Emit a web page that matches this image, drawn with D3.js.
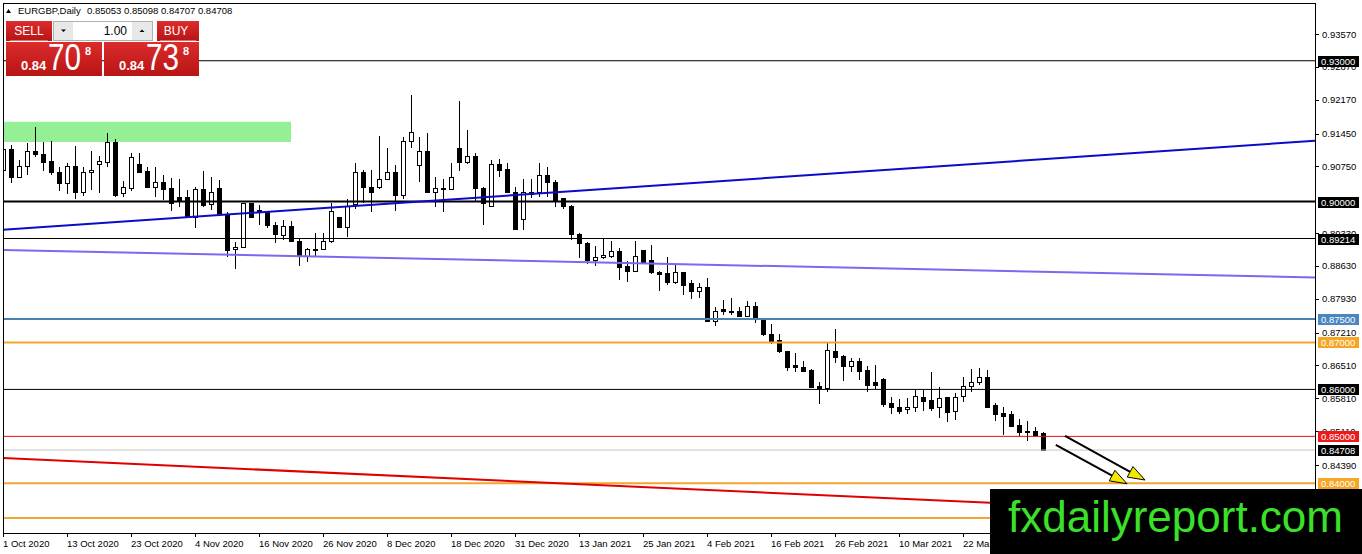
<!DOCTYPE html>
<html>
<head>
<meta charset="utf-8">
<script src="https://d3js.org/d3.v7.min.js"></script>
<style>
body { margin: 0; background: #fff; }
svg { display: block; font-family: "Liberation Sans", Arial, sans-serif; }
</style>
</head>
<body>
<div id="chart"></div>
<script>
// EURGBP daily candles, 1 Oct 2020 .. early Apr 2021
var symbol = "EURGBP,Daily";

var dateLabels = ["1 Oct 2020", "13 Oct 2020", "23 Oct 2020", "4 Nov 2020", "16 Nov 2020",
    "26 Nov 2020", "8 Dec 2020", "18 Dec 2020", "31 Dec 2020", "13 Jan 2021", "25 Jan 2021",
    "4 Feb 2021", "16 Feb 2021", "26 Feb 2021", "10 Mar 2021", "22 Mar 2021", "1 Apr 2021"];

var open = [
    .9067,.9110,.9052,.9074,.9106,.9101,.9086,.9063,.9038,.9074,
    .9020,.9061,.9078,.9084,.9125,.9018,.9027,.9080,.9065,.9031,
    .9040,.9027,.9008,.9008,.8967,.9025,.8993,.9027,.8971,.8899,
    .8903,.8995,.8982,.8976,.8950,.8927,.8948,.8914,.8884,.8899,
    .8899,.8914,.8967,.8945,.8993,.9063,.9029,.9029,.9048,.9061,
    .9012,.9127,.9076,.9106,.9020,.9027,.9025,.9114,.9084,.9097,
    .9027,.8989,.9078,.9069,.9020,.8961,.9020,.9020,.9055,.9040,
    .9006,.8989,.8929,.8910,.8874,.8880,.8884,.8893,.8861,.8852,
    .8895,.8874,.8850,.8846,.8827,.8848,.8825,.8808,.8818,.8744,
    .8771,.8767,.8765,.8756,.8776,.8748,.8718,.8705,.8680,.8650,
    .8646,.8641,.8607,.8603,.8680,.8671,.8648,.8660,.8641,.8614,
    .8622,.8569,.8562,.8558,.8562,.8582,.8577,.8562,.8582,.8552,
    .8584,.8607,.8614,.8626,.8565,.8548,.8546,.8524,.8511,.8511,
    .85053];
var high = [
    .9153,.9121,.9089,.9125,.9159,.9127,.9129,.9074,.9082,.9118,
    .9074,.9108,.9097,.9146,.9133,.9044,.9104,.9104,.9074,.9074,
    .9057,.9050,.9048,.9025,.9031,.9065,.9052,.9046,.8978,.8914,
    .8997,.8997,.8993,.8980,.8957,.8961,.8959,.8922,.8901,.8933,
    .8933,.8997,.8967,.9006,.9082,.9067,.9067,.9140,.9114,.9078,
    .9138,.9227,.9138,.9146,.9052,.9048,.9082,.9214,.9153,.9104,
    .9031,.9089,.9091,.9082,.9031,.9048,.9048,.9082,.9074,.9046,
    .9008,.8993,.8933,.8914,.8905,.8922,.8916,.8901,.8873,.8916,
    .8897,.8908,.8852,.8882,.8865,.8850,.8833,.8827,.8837,.8776,
    .8790,.8795,.8776,.8788,.8786,.8750,.8739,.8718,.8682,.8678,
    .8660,.8643,.8616,.8699,.8729,.8673,.8667,.8667,.8650,.8652,
    .8624,.8584,.8580,.8582,.8599,.8599,.8637,.8605,.8584,.8592,
    .8626,.8643,.8646,.8641,.8571,.8562,.8554,.8537,.8533,.8520,
    .85098];
var low = [
    .9061,.9040,.9050,.9057,.9095,.9065,.9057,.9023,.9016,.9006,
    .9012,.9025,.9018,.9074,.9010,.9010,.9023,.9061,.9029,.9010,
    .9003,.8980,.8989,.8965,.8944,.8989,.8982,.8969,.8882,.8856,
    .8901,.8965,.8950,.8944,.8912,.8918,.8914,.8863,.8871,.8882,
    .8897,.8912,.8944,.8925,.8984,.8997,.8978,.9027,.9046,.8980,
    .9006,.9114,.9042,.9018,.8989,.8978,.9025,.9065,.9080,.8999,
    .8950,.8989,.9052,.9018,.8939,.8939,.9008,.9010,.9010,.8989,
    .8984,.8918,.8880,.8867,.8863,.8878,.8880,.8833,.8829,.8850,
    .8869,.8846,.8810,.8822,.8825,.8801,.8793,.8795,.8743,.8735,
    .8758,.8758,.8754,.8754,.8741,.8714,.8697,.8678,.8639,.8637,
    .8637,.8603,.8569,.8594,.8656,.8618,.8637,.8620,.8594,.8601,
    .8562,.8548,.8548,.8548,.8552,.8554,.8554,.8539,.8531,.8535,
    .8573,.8594,.8609,.8560,.8533,.8503,.8520,.8501,.8490,.8499,
    .84707];
var close = [
    .9110,.9052,.9074,.9106,.9101,.9084,.9061,.9038,.9074,.9020,
    .9063,.9067,.9086,.9125,.9014,.9031,.9093,.9063,.9031,.9040,
    .9025,.8995,.9003,.8967,.9025,.8991,.9020,.8974,.8895,.8903,
    .8995,.8967,.8976,.8950,.8929,.8948,.8916,.8884,.8897,.8895,
    .8914,.8978,.8945,.8989,.9061,.9029,.9020,.9048,.9061,.9012,
    .9127,.9148,.9106,.9020,.9027,.9025,.9052,.9084,.9097,.9027,
    .8997,.9078,.9067,.9020,.8940,.9020,.9016,.9055,.9040,.9003,
    .8989,.8929,.8910,.8874,.8880,.8886,.8893,.8859,.8852,.8884,
    .8871,.8848,.8844,.8827,.8850,.8822,.8808,.8818,.8744,.8765,
    .8765,.8763,.8756,.8776,.8754,.8716,.8701,.8680,.8646,.8646,
    .8639,.8605,.8603,.8682,.8667,.8648,.8660,.8639,.8609,.8609,
    .8567,.8562,.8554,.8562,.8584,.8575,.8560,.8580,.8550,.8582,
    .8607,.8614,.8626,.8562,.8546,.8543,.8522,.8509,.8509,.8501,
    .84708];

var askPrice = 0.84738;
var lotSize = "1.00";

// 0.90050 sits fully under the 0.90000 tag, so it is left out
var priceTicks = [0.93570, 0.92870, 0.92170, 0.91450, 0.90750, 0.89330,
    0.88630, 0.87930, 0.87210, 0.86510, 0.85810, 0.85110, 0.84390];

// horizontal levels, last one has no price tag
var levels = [0.93000, 0.90000, 0.89214, 0.87500, 0.87000, 0.86000, 0.85000, 0.84708, 0.84000, 0.83260];
var levelColor = ["#000", "#000", "#000", "#4a80b4", "#f2a531", "#000", "#e01010", "#c4c4c4", "#f2a531", "#f2a531"];
var levelWidth = [1, 2, 1, 2, 2, 1, 1, 1, 2, 2];
var tagColor = ["#000", "#000", "#000", "#4a86c0", "#f5a623", "#000", "#f01818", "#000", "#f5a623", null];

// trend lines as [bar, price] pairs
var trendBlue = [[0, 0.8940], [160, 0.9125]];
var trendPurple = [[0, 0.8897], [160, 0.8840]];
var trendRed = [[0, 0.8454], [160, 0.8330]];
var zone = { from: 0, to: 36, top: 0.9170, bottom: 0.9127 };
var arrows = [
    [[131.6, 0.8482], [140.5, 0.8399]],
    [[132.75, 0.8501], [142.75, 0.8407]]
];

var width = 1362, height = 554;
var L = 3, R = 1315, T = 3, B = 533;

var x = d3.scaleLinear().domain([0, 164]).range([3, 1315]);
var y = d3.scaleLinear().domain([0.84390, 0.93570]).range([465, 34]);

var svg = d3.select("#chart").append("svg")
    .attr("width", width)
    .attr("height", height);

svg.append("rect").attr("width", width).attr("height", height).attr("fill", "#fff");

var defs = svg.append("defs");
defs.append("clipPath").attr("id", "plot")
    .append("rect").attr("x", L).attr("y", T).attr("width", R - L).attr("height", B - T);

var grad = defs.append("linearGradient").attr("id", "redgrad")
    .attr("x1", 0).attr("x2", 0).attr("y1", 0).attr("y2", 1);
grad.append("stop").attr("offset", "0%").attr("stop-color", "#dc2c2c");
grad.append("stop").attr("offset", "100%").attr("stop-color", "#b81414");

var plot = svg.append("g").attr("clip-path", "url(#plot)");

// zone rectangle (background object)
plot.append("rect")
    .attr("x", x(zone.from))
    .attr("y", y(zone.top))
    .attr("width", x(zone.to) - x(zone.from))
    .attr("height", y(zone.bottom) - y(zone.top))
    .attr("fill", "#95ef95");

// candles
var bars = d3.range(open.length);
var candle = plot.append("g").selectAll("g")
    .data(bars)
    .enter().append("g")
    .attr("shape-rendering", "crispEdges");

candle.append("line")
    .attr("x1", function(i) { return Math.round(x(i)) + 0.5; })
    .attr("x2", function(i) { return Math.round(x(i)) + 0.5; })
    .attr("y1", function(i) { return y(high[i]); })
    .attr("y2", function(i) { return y(low[i]); })
    .attr("stroke", "#000");

candle.append("rect")
    .attr("x", function(i) { return Math.round(x(i)) - 1.5; })
    .attr("width", 4)
    .attr("y", function(i) { return y(Math.max(open[i], close[i])); })
    .attr("height", function(i) { return Math.max(0.5, y(Math.min(open[i], close[i])) - y(Math.max(open[i], close[i]))); })
    .attr("fill", function(i) { return close[i] >= open[i] ? "#fff" : "#000"; })
    .attr("stroke", "#000");

// horizontal levels
plot.selectAll(".level")
    .data(levels)
    .enter().append("line")
    .attr("class", "level")
    .attr("x1", L).attr("x2", R)
    .attr("y1", function(d) { return y(d); })
    .attr("y2", function(d) { return y(d); })
    .attr("stroke", function(d, i) { return levelColor[i]; })
    .attr("stroke-width", function(d, i) { return levelWidth[i]; });

// trend lines
var trendLine = d3.line()
    .x(function(d) { return x(d[0]); })
    .y(function(d) { return y(d[1]); });

function extend(p) {
    var slope = (p[1][1] - p[0][1]) / (p[1][0] - p[0][0]);
    var a = x.invert(L - 2), b = x.invert(R + 2);
    return [[a, p[0][1] + slope * (a - p[0][0])], [b, p[0][1] + slope * (b - p[0][0])]];
}

plot.append("path").attr("d", trendLine(extend(trendBlue)))
    .attr("stroke", "#0b0bc8").attr("stroke-width", 2).attr("fill", "none");
plot.append("path").attr("d", trendLine(extend(trendPurple)))
    .attr("stroke", "#7b68ee").attr("stroke-width", 2).attr("fill", "none");
plot.append("path").attr("d", trendLine(extend(trendRed)))
    .attr("stroke", "#e00000").attr("stroke-width", 2).attr("fill", "none");

// arrows
arrows.forEach(function(a) {
    var x1 = x(a[0][0]), y1 = y(a[0][1]), x2 = x(a[1][0]), y2 = y(a[1][1]);
    var ang = Math.atan2(y2 - y1, x2 - x1);
    var hl = 17, hw = 6;
    var bx = x2 - hl * Math.cos(ang), by = y2 - hl * Math.sin(ang);
    plot.append("line")
        .attr("x1", x1).attr("y1", y1).attr("x2", bx).attr("y2", by)
        .attr("stroke", "#000").attr("stroke-width", 2);
    var pts = [
        [x2, y2],
        [bx + hw * Math.sin(ang), by - hw * Math.cos(ang)],
        [bx - hw * Math.sin(ang), by + hw * Math.cos(ang)]
    ];
    plot.append("path")
        .attr("d", "M" + pts.map(function(p) { return p.join(","); }).join("L") + "Z")
        .attr("fill", "#f4e800").attr("stroke", "#000").attr("stroke-width", 1);
});

// frame
svg.append("path")
    .attr("d", "M" + (L + 0.5) + "," + B + "V" + (T + 0.5) + "H" + (R + 0.5) + "V" + (B + 0.5) + "H" + L)
    .attr("fill", "none").attr("stroke", "#000").attr("shape-rendering", "crispEdges");

// price axis
var yAxis = svg.append("g").attr("shape-rendering", "crispEdges");
yAxis.selectAll("line")
    .data(priceTicks)
    .enter().append("line")
    .attr("x1", R + 1).attr("x2", R + 4)
    .attr("y1", function(d) { return Math.round(y(d)) + 0.5; })
    .attr("y2", function(d) { return Math.round(y(d)) + 0.5; })
    .attr("stroke", "#000");
yAxis.selectAll("text")
    .data(priceTicks)
    .enter().append("text")
    .attr("x", R + 7)
    .attr("y", function(d) { return y(d) + 3.5; })
    .attr("font-size", "9.5px")
    .attr("fill", "#000")
    .text(function(d) { return d.toFixed(5); });

// price tags
var tags = svg.append("g");
levels.forEach(function(v, i) {
    if (!tagColor[i]) return;
    tags.append("rect")
        .attr("x", R + 3).attr("y", Math.round(y(v)) - 5)
        .attr("width", 41).attr("height", 11)
        .attr("fill", tagColor[i]);
    tags.append("text")
        .attr("x", R + 6).attr("y", y(v) + 4)
        .attr("font-size", "9.5px")
        .attr("fill", "#fff")
        .text(v.toFixed(5));
});

// time axis
var tAxis = svg.append("g");
tAxis.selectAll("line")
    .data(dateLabels)
    .enter().append("line")
    .attr("x1", function(d, i) { return Math.round(x(i * 8)) + 0.5; })
    .attr("x2", function(d, i) { return Math.round(x(i * 8)) + 0.5; })
    .attr("y1", B).attr("y2", B + 4)
    .attr("stroke", "#000").attr("shape-rendering", "crispEdges");
tAxis.selectAll("text")
    .data(dateLabels)
    .enter().append("text")
    .attr("x", function(d, i) { return x(i * 8); })
    .attr("y", B + 14)
    .attr("font-size", "9.5px")
    .attr("fill", "#000")
    .text(function(d) { return d; });

// header
var last = open.length - 1;
svg.append("path").attr("d", "M6,13L8.5,9L11,13Z").attr("fill", "#000");
svg.append("text").attr("x", 18).attr("y", 14).attr("font-size", "9.5px").text(symbol);
svg.append("text").attr("x", 87).attr("y", 14).attr("font-size", "9.5px")
    .text([open[last], high[last], low[last], close[last]].map(function(v) { return v.toFixed(5); }).join(" "));

// one-click trading panel
var panel = svg.append("g").attr("shape-rendering", "crispEdges");
panel.append("rect").attr("x", 6).attr("y", 21).attr("width", 46).attr("height", 20).attr("fill", "url(#redgrad)");
panel.append("rect").attr("x", 157).attr("y", 21).attr("width", 42).attr("height", 20).attr("fill", "url(#redgrad)");
panel.append("line").attr("x1", 10).attr("x2", 48).attr("y1", 40.5).attr("y2", 40.5).attr("stroke", "#e86a6a");
panel.append("line").attr("x1", 160).attr("x2", 196).attr("y1", 40.5).attr("y2", 40.5).attr("stroke", "#e86a6a");
panel.append("rect").attr("x", 53.5).attr("y", 21.5).attr("width", 99).attr("height", 19)
    .attr("fill", "#fff").attr("stroke", "#b0b0b0");
panel.append("rect").attr("x", 54).attr("y", 22).attr("width", 19).attr("height", 18).attr("fill", "#e8e8e8");
panel.append("rect").attr("x", 132).attr("y", 22).attr("width", 20).attr("height", 18).attr("fill", "#e8e8e8");
panel.append("path").attr("d", "M61,29.5L66,29.5L63.5,32Z").attr("fill", "#000").attr("shape-rendering", "auto");
panel.append("path").attr("d", "M139.5,32L144.5,32L142,29.5Z").attr("fill", "#000").attr("shape-rendering", "auto");
panel.append("text").attr("x", 127).attr("y", 35).attr("text-anchor", "end")
    .attr("font-size", "12px").attr("fill", "#000").text(lotSize);
panel.append("text").attr("x", 29).attr("y", 35).attr("text-anchor", "middle")
    .attr("font-size", "12px").attr("fill", "#fff").text("SELL");
panel.append("text").attr("x", 176).attr("y", 35).attr("text-anchor", "middle")
    .attr("font-size", "12px").attr("fill", "#fff").text("BUY");

function priceBox(x0, w, price) {
    var s = price.toFixed(5);
    panel.append("rect").attr("x", x0).attr("y", 42).attr("width", w).attr("height", 34).attr("fill", "url(#redgrad)");
    panel.append("text").attr("x", x0 + 15).attr("y", 70)
        .attr("font-size", "13px").attr("font-weight", "bold").attr("fill", "#fff").text(s.slice(0, 4));
    panel.append("text").attr("x", x0 + 42).attr("y", 70)
        .attr("font-size", "36px").attr("fill", "#fff")
        .attr("textLength", 33).attr("lengthAdjust", "spacingAndGlyphs").text(s.slice(4, 6));
    panel.append("text").attr("x", x0 + 79).attr("y", 55)
        .attr("font-size", "11px").attr("font-weight", "bold").attr("fill", "#fff").text(s.slice(6));
}
priceBox(6, 96, close[last]);
priceBox(104, 95, askPrice);

// watermark
var logo = svg.append("g");
logo.append("rect").attr("x", 990).attr("y", 489).attr("width", width - 990).attr("height", height - 489).attr("fill", "#000");
logo.append("text").attr("x", 1008).attr("y", 532)
    .attr("font-size", "44px").attr("fill", "#3be02a")
    .attr("textLength", 335).attr("lengthAdjust", "spacingAndGlyphs")
    .text("fxdailyreport.com");
</script>
</body>
</html>
